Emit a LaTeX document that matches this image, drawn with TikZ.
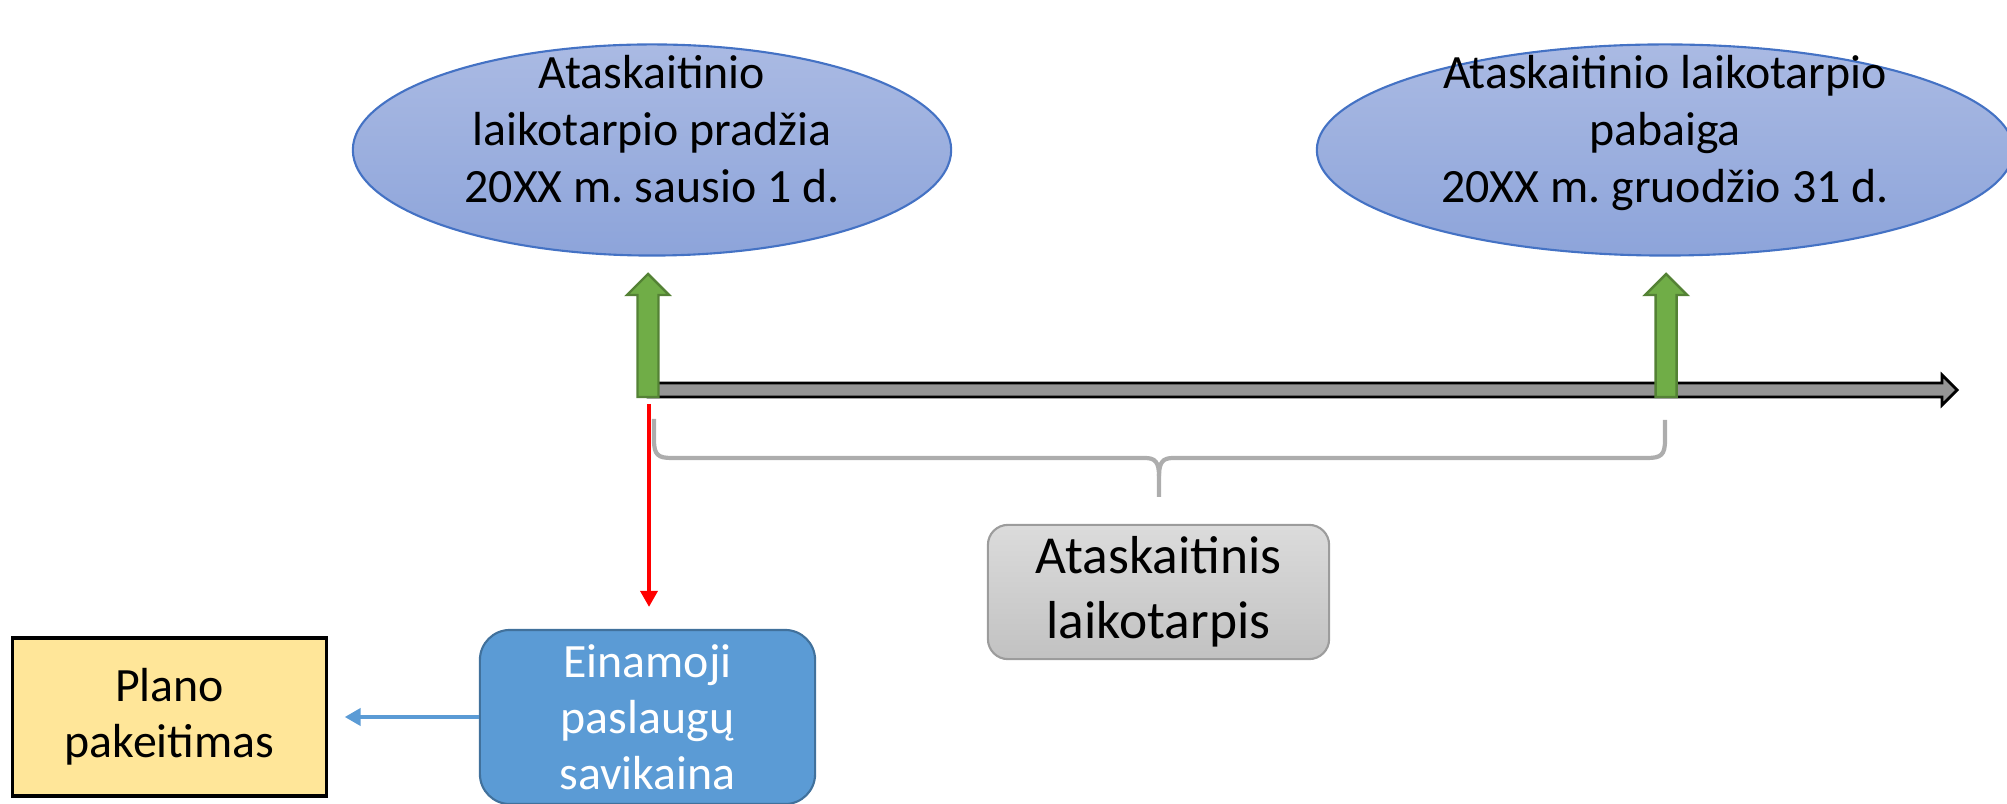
\documentclass[tikz,border=0pt]{standalone}
\usepackage{fontspec}
\setmainfont{Carlito}
\frenchspacing
\usepackage{tikz}
\usetikzlibrary{arrows.meta,positioning,calc,shapes}
\definecolor{evtop}{HTML}{AABAE3}
\definecolor{evbot}{HTML}{8DA4DA}
\definecolor{evline}{HTML}{4472C4}
\definecolor{mkfill}{HTML}{70AD47}
\definecolor{mkline}{HTML}{548235}
\definecolor{costblue}{HTML}{5B9BD5}
\definecolor{costline}{HTML}{41719C}
\definecolor{planfill}{HTML}{FFE699}
\definecolor{brgray}{HTML}{ADADAD}

\begin{document}
\begin{tikzpicture}[
  x=0.01cm, y=-0.01cm,
  event/.style={ellipse, draw=evline, line width=0.6pt, top color=evtop, bottom color=evbot, minimum height=2.11cm},
  evtext/.style={align=center, font=\fontsize{13.6}{16.2}\selectfont},
  marker/.style={draw=mkline, fill=mkfill, line width=0.7pt},
  timeline/.style={draw=black, line width=0.8pt, fill={rgb,255:red,148;green,148;blue,148}},
  bracket/.style={draw=brgray, line width=1.2pt},
  period/.style={draw=brgray!90!black, line width=0.6pt, rounded corners=0.2cm, top color=gray!28, bottom color=gray!48, minimum width=3.41cm, minimum height=1.32cm, align=center, font=\fontsize{15.2}{18.5}\selectfont},
  cost/.style={draw=costline, line width=0.6pt, fill=costblue, rounded corners=0.3cm, minimum width=3.35cm, minimum height=1.74cm, align=center, text=white, font=\fontsize{13.6}{15.9}\selectfont},
  plan/.style={draw=black, line width=0.9pt, fill=planfill, minimum width=3.13cm, minimum height=1.58cm, align=center, font=\fontsize{13.6}{15.9}\selectfont},
  >=Stealth
]
  \useasboundingbox (0,0) rectangle (2007,804);

  \node[event, minimum width=5.98cm] (start) at (652,150) {};
  \node[event, minimum width=6.96cm] (finish) at (1665,150) {};
  \node[evtext] (starttxt) at (652,129) {Ataskaitinio\\laikotarpio pradžia\\20XX m. sausio 1 d.};
  \node[evtext] (finishtxt) at (1665,133) {Ataskaitinio laikotarpio\\pabaiga\\20XX m. gruodžio 31 d.};

  \draw[timeline] (648,383) -- (1942,383) -- (1942,375) -- (1957,390) -- (1942,405) -- (1942,397) -- (648,397) -- cycle;
  \foreach \x in {648,1666}
    \draw[marker] (\x-10.5,397) -- (\x-10.5,295) -- (\x-21,295) -- (\x,274) -- (\x+21,295) -- (\x+10.5,295) -- (\x+10.5,397) -- cycle;

  \draw[bracket] (654,419) -- (654,440) .. controls (654,455) and (658,458) .. (672,458) -- (1145,458) .. controls (1155,458) and (1159,462) .. (1159,476) -- (1159,497);
  \draw[bracket] (1159,476) .. controls (1159,462) and (1163,458) .. (1173,458) -- (1647,458) .. controls (1661,458) and (1665,455) .. (1665,440) -- (1665,420);

  \node[period] (span) at (1158.5,592) {Ataskaitinis\\laikotarpis};
  \node[cost] (curcost) at (647.5,717) {Einamoji\\paslaugų\\savikaina};
  \node[plan] (change) at (169.5,717) {Plano\\pakeitimas};

  \coordinate (redtop) at (649,404);
  \draw[red, line width=1pt, -{Triangle[length=1.6mm, width=1.7mm]}, shorten >=0.22cm] (redtop) -- (redtop |- curcost.north);
  \draw[costblue, line width=1.2pt, -{Triangle[length=1.6mm, width=1.7mm]}, shorten >=0.17cm] (curcost.west) -- (change.east);
\end{tikzpicture}
\end{document}
